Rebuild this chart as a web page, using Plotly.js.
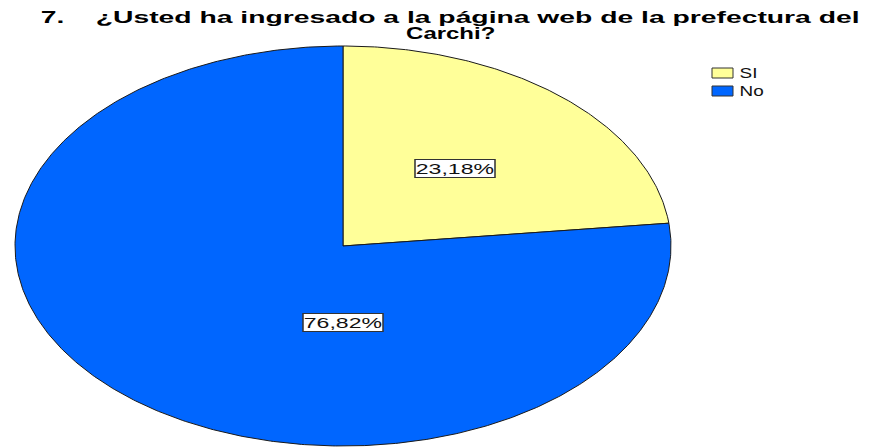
<!DOCTYPE html>
<html>
<head>
<meta charset="utf-8">
<script src="https://cdn.plot.ly/plotly-3.0.1.min.js"></script>
<style>html,body{margin:0;padding:0;background:#fff;}#chart{width:876px;height:447px;}</style>
</head>
<body>
<div id="chart"></div>
<script>
// Data
const categories = ["SI", "No"];
const percents = [23.18, 76.82];
const labels = ["23,18%", "76,82%"];
const colors = ["#FFFF99", "#0066FF"];
const titleLines = ["7.\u00a0\u00a0\u00a0\u00a0¿Usted ha ingresado a la página web de la prefectura del", "Carchi?"];

// Layout geometry (pixels)
const W = 876, H = 447;
const cx = 343, cy = 246, rx = 328, ry = 200;
const FONT = "Liberation Sans, Arial, sans-serif";

// Wedges on a unit circle; the axes' unequal scales turn it into the ellipse.
const total = percents.reduce((a, b) => a + b, 0);
const traces = [];
let start = 0;
percents.forEach((p, i) => {
  const span = p / total * 2 * Math.PI;
  const xs = [0], ys = [0];
  const n = Math.max(8, Math.ceil(span / (Math.PI / 360)));
  for (let k = 0; k <= n; k++) {
    const a = start + span * k / n;
    xs.push(Math.sin(a));
    ys.push(Math.cos(a));
  }
  xs.push(0); ys.push(0);
  traces.push({
    type: "scatter", mode: "lines", x: xs, y: ys, fill: "toself",
    fillcolor: colors[i], line: {color: "#1a1a1a", width: 1},
    name: categories[i], hoverinfo: "name", showlegend: false
  });
  start += span;
});

const annotations = [];
const fits = []; // [left, width] target in pixels for each annotation (by index)

// value labels
const labelPix = [[455, 168.5], [343, 322]];
labelPix.forEach((pp, i) => {
  annotations.push({
    x: (pp[0] - cx) / rx, y: (cy - pp[1]) / ry, xref: "x", yref: "y",
    text: labels[i], showarrow: false,
    font: {family: FONT, size: 15, color: "#111"},
    bgcolor: "#ffffff", bordercolor: "#333", borderwidth: 1, borderpad: 0
  });
  fits.push([pp[0] - 40, 80]);
});

// title lines
annotations.push({
  xref: "paper", yref: "paper", x: 450 / W, y: 1 - 18 / H, xanchor: "center", yanchor: "middle",
  text: "<b>" + titleLines[0] + "</b>", showarrow: false,
  font: {family: FONT, size: 17, color: "#000"}
});
fits.push([38, 824]);
annotations.push({
  xref: "paper", yref: "paper", x: 450.5 / W, y: 1 - 33.5 / H, xanchor: "center", yanchor: "middle",
  text: "<b>" + titleLines[1] + "</b>", showarrow: false,
  font: {family: FONT, size: 17, color: "#000"}
});
fits.push([404, 93]);

// manual legend
const shapes = [];
const legendY = [73, 91];
categories.forEach((c, i) => {
  shapes.push({
    type: "rect", xref: "paper", yref: "paper",
    x0: 712 / W, x1: 733 / W, y0: 1 - (legendY[i] - 5) / H, y1: 1 - (legendY[i] + 5) / H,
    fillcolor: colors[i], line: {color: "#333", width: 1}
  });
  annotations.push({
    xref: "paper", yref: "paper", x: 737 / W, y: 1 - legendY[i] / H, xanchor: "left", yanchor: "middle",
    text: c, showarrow: false, font: {family: FONT, size: 14, color: "#111"}
  });
  fits.push(null);
});

const layout = {
  width: W, height: H,
  margin: {l: 0, r: 0, t: 0, b: 0},
  paper_bgcolor: "#fff", plot_bgcolor: "#fff",
  showlegend: false,
  xaxis: {range: [(0 - cx) / rx, (W - cx) / rx], visible: false, fixedrange: true},
  yaxis: {range: [(cy - H) / ry, cy / ry], visible: false, fixedrange: true},
  annotations: annotations,
  shapes: shapes
};

Plotly.newPlot("chart", traces, layout, {displayModeBar: false, staticPlot: true}).then(gd => {
  // the reference's text is horizontally stretched; stretch each text group to its width
  const groups = gd.querySelectorAll("g.annotation");
  groups.forEach(g => {
    const idx = +g.getAttribute("data-index");
    const f = fits[idx];
    const bb = g.getBBox();
    let s, left;
    if (f) { s = f[1] / bb.width; left = f[0]; }
    else { s = 1.35; left = bb.x; }
    g.setAttribute("transform", "translate(" + (left - s * bb.x) + ",0) scale(" + s + ",1)");
  });
});
</script>
</body>
</html>
